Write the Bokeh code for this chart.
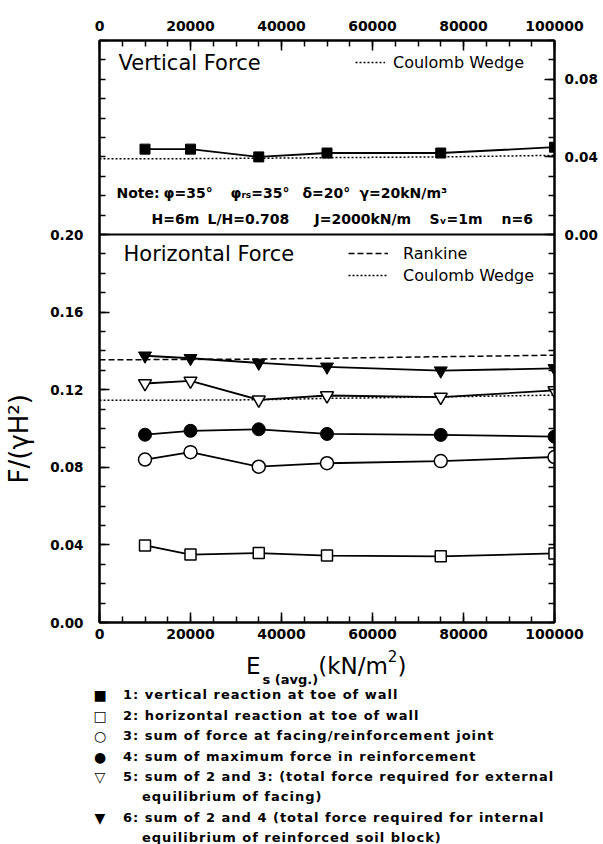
from bokeh.plotting import figure
from bokeh.layouts import column
from bokeh.models import (LinearAxis, Range1d, FixedTicker, Span, Label, Legend, LegendItem,
                          NumeralTickFormatter, Div)
from bokeh.embed import file_html
from bokeh.resources import INLINE

# ---------------- data ----------------
es = [10000, 20000, 35000, 50000, 75000, 100000]
vert_reaction = [0.0440, 0.0440, 0.0400, 0.0420, 0.0420, 0.0450]   # 1 (upper panel)
horiz_reaction = [0.0397, 0.0350, 0.0358, 0.0345, 0.0341, 0.0356]  # 2
facing_force = [0.0840, 0.0878, 0.0803, 0.0821, 0.0832, 0.0853]    # 3
max_reinf = [0.0968, 0.0988, 0.0996, 0.0972, 0.0967, 0.0958]       # 4
sum_2_3 = [0.1232, 0.1245, 0.1148, 0.1170, 0.1162, 0.1196]         # 5
sum_2_4 = [0.1375, 0.1362, 0.1338, 0.1318, 0.1298, 0.1310]         # 6

ref_x = [0, 10000, 20000, 35000, 50000, 75000, 100000]
rankine_h = [0.1355, 0.1355, 0.1356, 0.1358, 0.1362, 0.1370, 0.1378]
coulomb_h = [0.1145, 0.1145, 0.1146, 0.1148, 0.1155, 0.1163, 0.1172]
coulomb_v = [0.0390, 0.0390, 0.0391, 0.0393, 0.0396, 0.0400, 0.0408]

x_major = [0, 20000, 40000, 60000, 80000, 100000]
y_left_major = [0.0, 0.04, 0.08, 0.12, 0.16, 0.20]
y_right_major = [0.0, 0.04, 0.08]

key_symbols = ["■", "□", "○", "●", "▽", "▼"]
key_labels = [
    ["1: vertical reaction at toe of wall"],
    ["2: horizontal reaction at toe of wall"],
    ["3: sum of force at facing/reinforcement joint"],
    ["4: sum of maximum force in reinforcement"],
    ["5: sum of 2 and 3: (total force required for external", "equilibrium of facing)"],
    ["6: sum of 2 and 4 (total force required for internal", "equilibrium of reinforced soil block)"],
]

FONT = "DejaVu Sans"

marker_styles = [
    dict(marker="square", size=10, fill_color="black", line_color="black"),
    dict(marker="square", size=11, fill_color="white", line_color="black", line_width=1.5),
    dict(marker="circle", size=13, fill_color="white", line_color="black", line_width=1.5),
    dict(marker="circle", size=13, fill_color="black", line_color="black"),
    dict(marker="inverted_triangle", size=13, fill_color="white", line_color="black", line_width=1.5),
    dict(marker="inverted_triangle", size=13, fill_color="black", line_color="black"),
]

# frame: x 98..554, y 40..622 (screen px)
p = figure(width=600, height=646, output_backend="svg", toolbar_location=None,
           x_range=Range1d(0, 100000), y_range=Range1d(0, 0.30),
           min_border_left=98, min_border_right=46, min_border_top=40, min_border_bottom=24,
           background_fill_color="white", border_fill_color="white")
p.extra_y_ranges = {"v": Range1d(-0.20, 0.10)}
p.xgrid.visible = False
p.ygrid.visible = False
p.outline_line_color = "black"
p.outline_line_width = 2


def style_axis(ax, standoff, size="14px"):
    ax.axis_line_width = 2
    ax.axis_line_color = "black"
    ax.major_tick_in = 10
    ax.major_tick_out = 0
    ax.minor_tick_in = 6
    ax.minor_tick_out = 0
    ax.major_tick_line_width = 1.5
    ax.minor_tick_line_width = 1.5
    ax.major_tick_line_color = "black"
    ax.minor_tick_line_color = "black"
    ax.major_label_text_font = FONT
    ax.major_label_text_font_style = "bold"
    ax.major_label_text_font_size = size
    ax.major_label_text_color = "black"
    ax.major_label_standoff = standoff


x_minor = [i * 5000 for i in range(21)]
bx = p.xaxis[0]
bx.ticker = FixedTicker(ticks=x_major, minor_ticks=x_minor)
bx.formatter = NumeralTickFormatter(format="0")
style_axis(bx, 6)

tx = LinearAxis(ticker=FixedTicker(ticks=x_major, minor_ticks=x_minor),
                formatter=NumeralTickFormatter(format="0"))
style_axis(tx, 10)
p.add_layout(tx, "above")

ly = p.yaxis[0]
ly.ticker = FixedTicker(ticks=y_left_major, minor_ticks=[round(i * 0.01, 2) for i in range(31)])
ly.formatter = NumeralTickFormatter(format="0.00")
style_axis(ly, 16, "13.5px")

# axis carrying only the title; trailing em spaces move it onto the lower panel
ty = LinearAxis(ticker=FixedTicker(ticks=[]), axis_line_alpha=0,
                major_tick_line_alpha=0, minor_tick_line_alpha=0,
                axis_label="F/(γH²)" + "\u2003" * 8 + "\u2005", axis_label_text_font=FONT,
                axis_label_text_font_style="normal", axis_label_text_font_size="26px",
                axis_label_text_color="black", axis_label_standoff=14)
p.add_layout(ty, "left")

ry = LinearAxis(y_range_name="v",
                ticker=FixedTicker(ticks=y_right_major,
                                   minor_ticks=[round(-0.20 + i * 0.01, 2) for i in range(31)]),
                formatter=NumeralTickFormatter(format="0.00"))
style_axis(ry, 10, "13.5px")
p.add_layout(ry, "right")

p.add_layout(Span(location=0.20, dimension="width", line_color="black", line_width=2))

# ---------------- reference lines ----------------
rk = p.line(ref_x, rankine_h, line_color="black", line_width=1.5, line_dash="6 3")
cw_h = p.line(ref_x, coulomb_h, line_color="black", line_width=1.5, line_dash="2 2")
cw_v = p.line(ref_x, coulomb_v, line_color="black", line_width=1.5, line_dash="2 2",
              y_range_name="v")

# ---------------- series ----------------
LW = 1.8
p.line(es, vert_reaction, line_color="black", line_width=LW, y_range_name="v")
p.scatter(es, vert_reaction, y_range_name="v", **marker_styles[0])
for ys, st in zip([horiz_reaction, facing_force, max_reinf, sum_2_3, sum_2_4], marker_styles[1:]):
    p.line(es, ys, line_color="black", line_width=LW)
    p.scatter(es, ys, **st)


# ---------------- in-panel legends ----------------
def small_legend(items, loc, gw, standoff):
    lg = Legend(items=items, location=loc, border_line_alpha=0, background_fill_alpha=0,
                padding=0, margin=0, spacing=2, glyph_width=gw, glyph_height=14,
                label_height=20, label_standoff=standoff,
                label_text_font=FONT, label_text_font_size="16px", label_text_color="black")
    p.add_layout(lg, "center")


small_legend([LegendItem(label="Coulomb Wedge", renderers=[cw_v])], (256, 550), 30, 8)
small_legend([LegendItem(label="Rankine", renderers=[rk]),
              LegendItem(label="Coulomb Wedge", renderers=[cw_h])], (249, 337), 40, 15)


def lab(text, x, y, size, style="normal"):
    p.add_layout(Label(x=x, y=y, x_units="screen", y_units="screen", text=text,
                       text_font=FONT, text_font_size=size, text_font_style=style,
                       text_color="black", text_baseline="middle"))


lab("Vertical Force", 19, 560, "21px")
lab("Horizontal Force", 24, 369, "21px")
for t, xx in [("Note:", 17), ("φ=35°", 64), ("φᵣₛ=35°", 131), ("δ=20°", 203), ("γ=20kN/m³", 260)]:
    lab(t, xx, 430, "14px", "bold")
for t, xx in [("H=6m", 52), ("L/H=0.708", 108), ("J=2000kN/m", 215), ("Sᵥ=1m", 330), ("n=6", 402)]:
    lab(t, xx, 404, "14px", "bold")

# ---------------- x title + marker key (below the chart) ----------------
parts = ['<div style="position:relative;width:600px;height:196px;overflow:visible;'
         'font-family:\'DejaVu Sans\';color:black;">']
parts.append('<span style="position:absolute;left:241px;top:4px;font-size:23px;'
             'line-height:23px;white-space:nowrap;">E'
             '<span style="font-size:13px;font-weight:bold;position:relative;top:10px;'
             'margin-left:2px;">s (avg.)</span>(kN/m'
             '<span style="font-size:15px;position:relative;top:-12px;">2</span>)</span>')
tops = [36, 57, 77, 98, 118, 138, 159, 179]
k = 0
for sym, lines in zip(key_symbols, key_labels):
    parts.append('<span style="position:absolute;left:85px;width:20px;text-align:center;'
                 'top:%dpx;font-size:14px;line-height:16px;">%s</span>' % (tops[k], sym))
    for j, line in enumerate(lines):
        left = 118 if j == 0 else 137
        parts.append('<span style="position:absolute;left:%dpx;top:%dpx;font-size:13px;'
                     'font-weight:bold;letter-spacing:1px;line-height:16px;white-space:nowrap;">%s</span>'
                     % (left, tops[k], line))
        k += 1
parts.append('</div>')

key = Div(text="".join(parts), width=600, height=196, styles={"overflow": "visible"})

open("out.html", "w").write(file_html(column(p, key), INLINE))
